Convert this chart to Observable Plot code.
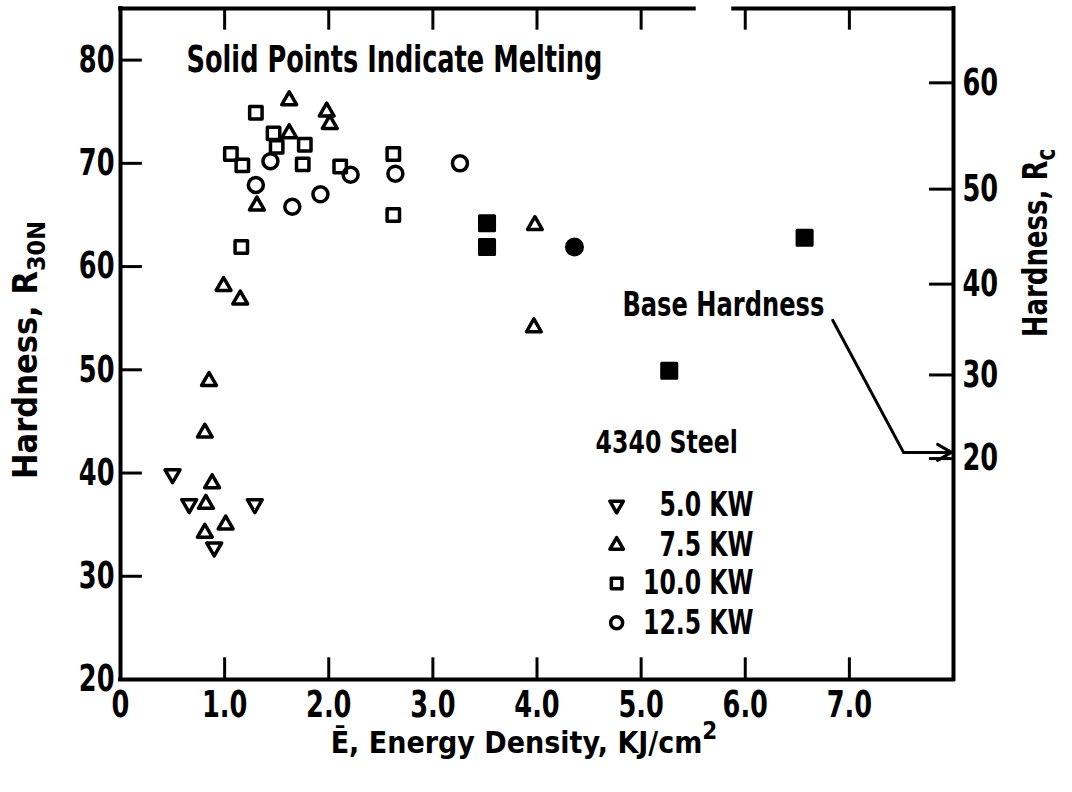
<!DOCTYPE html>
<html><head><meta charset="utf-8">
<script src="https://cdn.jsdelivr.net/npm/d3@7"></script>
<script src="https://cdn.jsdelivr.net/npm/@observablehq/plot@0.6"></script>
<style>
html,body{margin:0;padding:0;background:#fff;}
</style></head><body><div id="chart"></div>
<script>
// ---- tick values / labels ----
const xTicks = [0, 1, 2, 3, 4, 5, 6, 7];
const xTickLabels = ["0", "1.0", "2.0", "3.0", "4.0", "5.0", "6.0", "7.0"];
const yTicks = [20, 30, 40, 50, 60, 70, 80];
const rcTickLabels = [60, 50, 40, 30, 20];
const rcTickAtR30N = [77.8, 67.5, 58.3, 49.5, 41.4];

// ---- 5.0 KW (down triangles) ----
const kw50E = [0.50, 0.66, 0.90, 1.29];
const kw50H = [39.9, 37.0, 32.8, 37.0];
const kw50Melt = [false, false, false, false];

// ---- 7.5 KW (up triangles) ----
const kw75E = [1.62, 1.98, 2.01, 1.62, 1.31, 0.99, 1.15, 3.98, 3.97, 0.85, 0.81, 0.88, 0.82, 1.01, 0.81];
const kw75H = [76.1, 75.0, 73.8, 72.9, 65.9, 58.1, 56.8, 64.0, 54.1, 48.9, 43.9, 39.0, 37.0, 35.0, 34.2];
const kw75Melt = kw75E.map(() => false);

// ---- 10.0 KW (squares) ----
const kw100E = [1.30, 1.47, 1.50, 1.77, 1.06, 1.17, 1.75, 2.11, 2.62, 2.62, 1.16, 3.52, 3.52, 5.27, 6.57];
const kw100H = [74.9, 72.9, 71.6, 71.8, 70.9, 69.8, 69.9, 69.7, 70.9, 65.0, 61.9, 64.2, 61.9, 49.9, 62.8];
const kw100Melt = [false, false, false, false, false, false, false, false, false, false, false, true, true, true, true];

// ---- 12.5 KW (circles) ----
const kw125E = [1.44, 1.30, 1.65, 1.92, 2.21, 2.64, 3.26, 4.36];
const kw125H = [70.2, 67.9, 65.8, 67.0, 68.9, 69.0, 70.0, 61.9];
const kw125Melt = [false, false, false, false, false, false, false, true];

const seriesNames = ["5.0 KW", "7.5 KW", "10.0 KW", "12.5 KW"];

// symbols
const triangleDown = {
  draw(ctx, size) {
    const y = Math.sqrt(size / (3 * Math.sqrt(3)));
    ctx.moveTo(0, 2 * y);
    ctx.lineTo(-Math.sqrt(3) * y, -y);
    ctx.lineTo(Math.sqrt(3) * y, -y);
    ctx.closePath();
  }
};
const seriesSymbols = [triangleDown, "triangle", "square", "circle"];
const seriesR = [5.5, 5.5, 7, 7.5];
const seriesRSolid = [5.5, 5.5, 8.5, 8];

const seriesData = [
  [kw50E, kw50H, kw50Melt],
  [kw75E, kw75H, kw75Melt],
  [kw100E, kw100H, kw100Melt],
  [kw125E, kw125H, kw125Melt]
].map(([E, H, M], s) => E.map((e, i) => ({E: e, H: H[i], melt: M[i], s})));

const FONT = '"DejaVu Sans Condensed", "DejaVu Sans", sans-serif';

const dotMarks = [];
seriesData.forEach((pts, s) => {
  dotMarks.push(Plot.dot(pts.filter(d => !d.melt), {
    x: "E", y: "H", symbol: () => seriesSymbols[s], r: seriesR[s],
    stroke: "black", fill: "none", strokeWidth: 3.5, strokeLinejoin: "round"
  }));
  dotMarks.push(Plot.dot(pts.filter(d => d.melt), {
    x: "E", y: "H", symbol: () => seriesSymbols[s], r: seriesRSolid[s],
    stroke: "black", fill: "black", strokeWidth: 3, strokeLinejoin: "round"
  }));
});

// legend rows
const legendRows = seriesNames.map((name, i) => ({name, i}));
const legendY = [36.9, 33.0, 29.3, 25.5];

const chart = Plot.plot({
  width: 1072,
  height: 792,
  marginLeft: 120,
  marginRight: 119,
  marginTop: 8,
  marginBottom: 113,
  style: {fontFamily: FONT, fontWeight: "bold", background: "white", color: "black"},
  x: {domain: [0, 8]},
  y: {domain: [20, 85]},
  marks: [
    // frame
    Plot.ruleX([0, 8], {y1: 20, y2: 85, strokeWidth: 4, strokeLinecap: "square"}),
    Plot.ruleY([20], {x1: 0, x2: 8, strokeWidth: 4, strokeLinecap: "square"}),
    Plot.ruleY([85], {x1: 0, x2: 5.51, strokeWidth: 4, strokeLinecap: "square"}),
    Plot.ruleY([85], {x1: 5.89, x2: 8, strokeWidth: 4, strokeLinecap: "square"}),
    // inward ticks
    Plot.ruleX(xTicks.slice(1), {y1: 20, y2: 22.1, strokeWidth: 3}),
    Plot.ruleX(xTicks.slice(1), {y1: 85, y2: 82.9, strokeWidth: 3}),
    Plot.ruleY(yTicks.slice(1), {x1: 0, x2: 0.21, strokeWidth: 3}),
    Plot.ruleY(rcTickAtR30N, {x1: 7.77, x2: 8, strokeWidth: 3}),
    // axes labels
    Plot.axisX(xTicks, {tickSize: 0, tickPadding: 11, fontSize: 37, label: null,
      tickFormat: (d) => xTickLabels[xTicks.indexOf(d)]}),
    Plot.axisY(yTicks, {tickSize: 0, tickPadding: 6, fontSize: 37, label: null}),
    Plot.text(rcTickLabels, {x: 8, y: (d, i) => rcTickAtR30N[i], text: d => String(d),
      dx: 9, textAnchor: "start", fontSize: 37}),
    // data
    ...dotMarks,
    // annotations
    Plot.text(["Solid Points Indicate Melting"], {x: 0.634, y: 80.0, textAnchor: "start", fontSize: 37}),
    Plot.text(["Base Hardness"], {x: 4.82, y: 56.3, textAnchor: "start", fontSize: 34}),
    Plot.line([[6.84, 54.8], [7.52, 42.0]], {x: d => d[0], y: d => d[1], strokeWidth: 3}),
    Plot.arrow([0], {x1: 7.52, y1: 42.0, x2: 7.98, y2: 42.0, strokeWidth: 3, headLength: 12}),
    // legend
    Plot.text(["4340 Steel"], {x: 4.563, y: 42.9, textAnchor: "start", fontSize: 32}),
    ...legendRows.map(row => Plot.dot([row], {
      x: () => 4.765, y: () => legendY[row.i], symbol: () => seriesSymbols[row.i],
      r: row.i < 2 ? 5 : 6, stroke: "black", fill: "none", strokeWidth: 3.5, strokeLinejoin: "round"
    })),
    Plot.text(legendRows, {x: () => 6.08, y: d => legendY[d.i], text: "name", textAnchor: "end", fontSize: 34})
  ]
});

document.getElementById("chart").appendChild(chart);

// Condense the rendered text horizontally (reference uses a condensed typeface)
const svg = d3.select(chart);
svg.selectAll("text").each(function () {
  const el = d3.select(this);
  const content = this.textContent;
  const sx = content === "4340 Steel" ? 0.82 : content === "Base Hardness" ? 0.79 : 0.77;
  const x = +el.attr("x") || 0, y = +el.attr("y") || 0;
  const t = el.attr("transform") || "";
  el.attr("transform", `${t} translate(${x},${y}) scale(${sx},1) translate(${-x},${-y})`);
});

// left axis title
svg.append("text")
  .attr("transform", "translate(37,350) rotate(-90)")
  .attr("text-anchor", "middle").attr("font-size", 34).attr("font-weight", "bold")
  .call(t => {
    t.append("tspan").text("Hardness, R");
    t.append("tspan").attr("font-size", 25).attr("dy", 8).text("30N");
  });
// right axis title
svg.append("text")
  .attr("transform", "translate(1047,243) rotate(-90) scale(0.85,1)")
  .attr("text-anchor", "middle").attr("font-size", 34).attr("font-weight", "bold")
  .call(t => {
    t.append("tspan").text("Hardness, R");
    t.append("tspan").attr("font-size", 26).attr("dy", 8).text("c");
  });
// x axis title
svg.append("text")
  .attr("transform", "translate(524,753)")
  .attr("text-anchor", "middle").attr("font-size", 30).attr("font-weight", "bold")
  .call(t => {
    t.append("tspan").text("Ē, Energy Density, KJ/cm");
    t.append("tspan").attr("font-size", 24).attr("dy", -14).text("2");
  });
</script></body></html>
